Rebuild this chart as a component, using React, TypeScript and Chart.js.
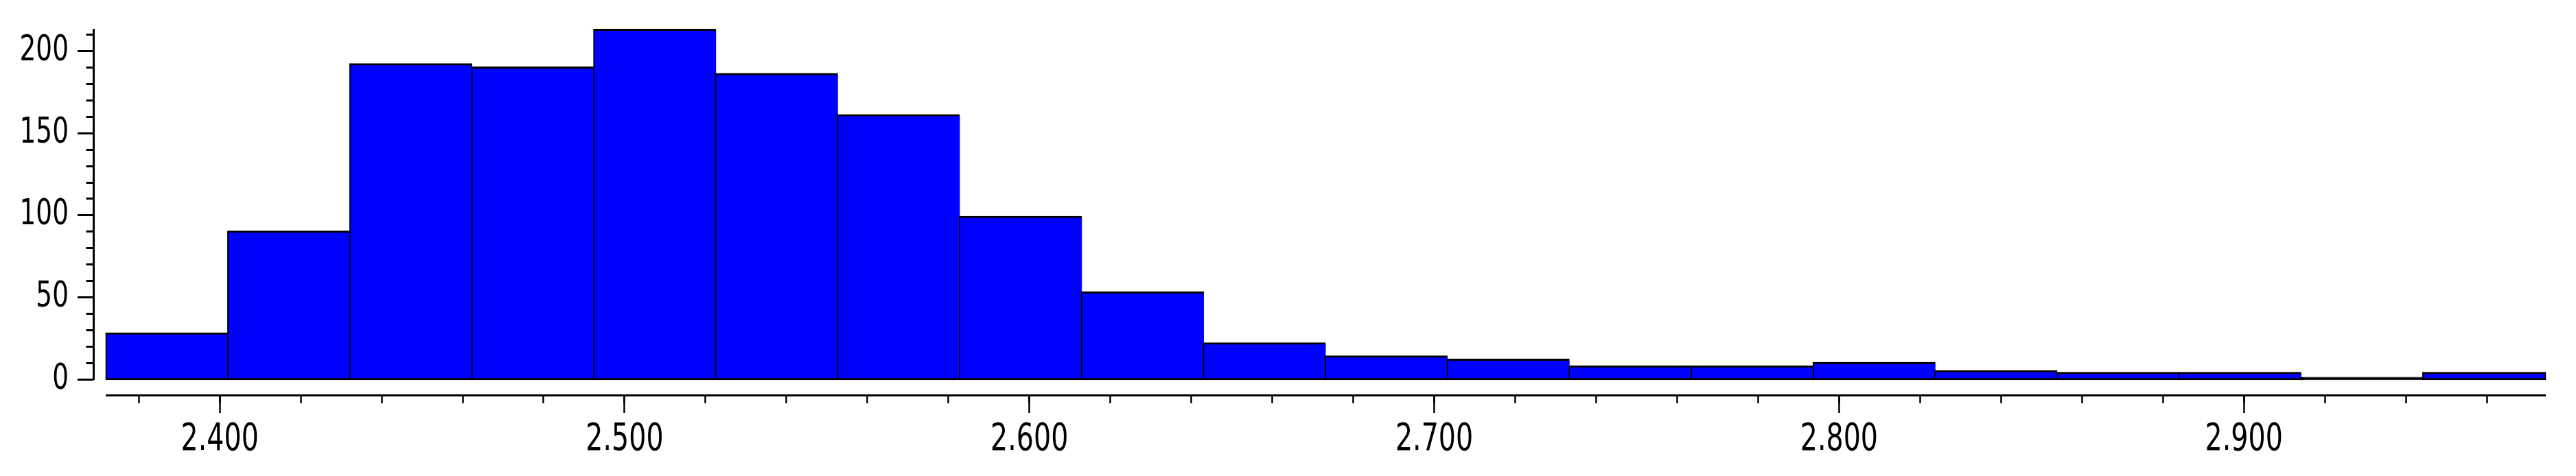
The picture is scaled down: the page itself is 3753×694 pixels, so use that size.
import React, { useEffect, useRef } from 'react';
import { Chart, registerables, LinearScale } from 'chart.js';

// ---- data ----
const BIN_EDGES = [
  2.372, 2.4021, 2.4322, 2.4624, 2.4925, 2.5226, 2.5527, 2.5828, 2.613, 2.6431,
  2.6732, 2.7033, 2.7334, 2.7636, 2.7937, 2.8238, 2.8539, 2.884, 2.9142, 2.9443, 2.9744,
];
const COUNTS = [28, 90, 192, 190, 213, 186, 161, 99, 53, 22, 14, 12, 8, 8, 10, 5, 4, 4, 1, 4];

const X_MAJOR_TICKS = [2.4, 2.5, 2.6, 2.7, 2.8, 2.9];
const X_TICK_LABELS = ['2.400', '2.500', '2.600', '2.700', '2.800', '2.900'];
const X_MINOR_TICKS = [
  2.38, 2.4, 2.42, 2.44, 2.46, 2.48, 2.5, 2.52, 2.54, 2.56, 2.58, 2.6, 2.62, 2.64, 2.66,
  2.68, 2.7, 2.72, 2.74, 2.76, 2.78, 2.8, 2.82, 2.84, 2.86, 2.88, 2.9, 2.92, 2.94, 2.96,
];
const Y_MAJOR_TICKS = [0, 50, 100, 150, 200];
const Y_TICK_LABELS = ['0', '50', '100', '150', '200'];
const Y_MINOR_TICKS = [0, 10, 20, 30, 40, 50, 60, 70, 80, 90, 100, 110, 120, 130, 140, 150, 160, 170, 180, 190, 200, 210];
const Y_AXIS_MAX = 213;

// ---- layout (pixels) ----
const W = 3753;
const H = 694;
const PLOT_LEFT = 155;
const PLOT_RIGHT = 3708;
const PLOT_TOP = 43.4;
const PLOT_BOTTOM = 553.3;
const Y_AXIS_PX = 136;
const Y_LABEL_RIGHT_PX = 100;
const X_AXIS_PX = 576.7;
const FONT_FAMILY = '"DejaVu Sans", "Liberation Sans", sans-serif';
const LABEL_SQUEEZE = 0.72; // horizontal squeeze of tick label glyphs
const BAR_FILL = '#0000ff';
const BAR_EDGE = '#000000';

// Linear scale whose tick labels are drawn horizontally condensed
class NarrowLinearScale extends LinearScale {
  static id = 'narrowLinear';
  drawLabels(chartArea: any) {
    const opts: any = this.options;
    if (!opts.ticks.display) return;
    const ctx = this.ctx;
    const items: any[] = (this as any).getLabelItems(chartArea);
    for (const item of items) {
      const o = item.options;
      ctx.save();
      ctx.translate(o.translation[0], o.translation[1]);
      if (o.rotation) ctx.rotate(o.rotation);
      ctx.scale(LABEL_SQUEEZE, 1);
      ctx.font = item.font.string;
      ctx.fillStyle = o.color;
      ctx.textAlign = o.textAlign;
      ctx.textBaseline = o.textBaseline;
      ctx.fillText(String(item.label), 0, item.textOffset);
      ctx.restore();
    }
  }
}

Chart.register(...registerables, NarrowLinearScale);

export default function App() {
  const canvasRef = useRef<HTMLCanvasElement | null>(null);

  useEffect(() => {
    const canvas = canvasRef.current;
    if (!canvas) return;

    const X_MIN = BIN_EDGES[0];
    const X_MAX = BIN_EDGES[BIN_EDGES.length - 1];
    const xPerPx = (X_MAX - X_MIN) / (PLOT_RIGHT - PLOT_LEFT);
    const yPerPx = Y_AXIS_MAX / (PLOT_BOTTOM - PLOT_TOP);
    const yAxisAtX = X_MIN - (PLOT_LEFT - Y_AXIS_PX) * xPerPx;
    const yLabelsAtX = X_MIN - (PLOT_LEFT - Y_LABEL_RIGHT_PX) * xPerPx;
    const xAxisAtY = -(X_AXIS_PX - PLOT_BOTTOM) * yPerPx;

    const points = COUNTS.map((c, i) => ({ x: (BIN_EDGES[i] + BIN_EDGES[i + 1]) / 2, y: c }));

    const setTicks = (arr: number[]) => (scale: any) => {
      scale.ticks = arr.map((v) => ({ value: v }));
    };

    // a bar thinner than its own outline shows as solid outline colour
    const fillFor = (c: any) => {
      const ys = c.chart.scales.y;
      const v = c.raw && typeof c.raw.y === 'number' ? c.raw.y : 0;
      if (!ys) return BAR_FILL;
      const h = Math.abs(ys.getPixelForValue(0) - ys.getPixelForValue(v));
      return h < 4 ? BAR_EDGE : BAR_FILL;
    };

    const common = { offset: false, bounds: 'data' };

    const chart = new Chart(canvas, {
      type: 'bar',
      data: {
        datasets: [
          {
            data: points as any,
            backgroundColor: fillFor,
            borderColor: BAR_EDGE,
            borderWidth: (c: any) => ({
              top: 3,
              bottom: 3,
              left: 2,
              right: c.dataIndex === COUNTS.length - 1 ? 2 : 0,
            }),
            borderSkipped: false,
            inflateAmount: 1.5,
            barThickness: 'flex',
            barPercentage: 1,
            categoryPercentage: 1,
            clip: false,
            xAxisID: 'x',
            yAxisID: 'y',
          } as any,
        ],
      },
      options: {
        responsive: false,
        maintainAspectRatio: false,
        animation: false,
        events: [],
        layout: {
          padding: { left: PLOT_LEFT, top: PLOT_TOP, right: W - PLOT_RIGHT, bottom: H - PLOT_BOTTOM },
        },
        plugins: {
          legend: { display: false },
          tooltip: { enabled: false },
          title: { display: false },
        },
        scales: {
          x: {
            ...common,
            type: 'linear',
            axis: 'x',
            min: X_MIN,
            max: X_MAX,
            position: { y: xAxisAtY } as any,
            afterBuildTicks: setTicks(X_MINOR_TICKS),
            grid: { offset: false, drawOnChartArea: false, drawTicks: true, tickLength: 10, tickWidth: 2.5, tickColor: '#000' },
            border: { display: true, width: 3, color: '#000' },
            ticks: { display: false },
          },
          xMajor: {
            ...common,
            type: 'narrowLinear',
            axis: 'x',
            min: X_MIN,
            max: X_MAX,
            position: { y: xAxisAtY } as any,
            afterBuildTicks: setTicks(X_MAJOR_TICKS),
            grid: { offset: false, drawOnChartArea: false, drawTicks: true, tickLength: 25, tickWidth: 2.5, tickColor: '#000' },
            border: { display: false },
            ticks: {
              display: true,
              autoSkip: false,
              maxRotation: 0,
              minRotation: 0,
              padding: 7,
              color: '#000',
              font: { family: FONT_FAMILY, size: 55 },
              callback: (_v: any, i: number) => X_TICK_LABELS[i],
            },
          },
          y: {
            ...common,
            type: 'linear',
            axis: 'y',
            min: 0,
            max: Y_AXIS_MAX,
            position: { x: yAxisAtX } as any,
            afterBuildTicks: setTicks(Y_MINOR_TICKS),
            grid: { offset: false, drawOnChartArea: false, drawTicks: true, tickLength: 9.5, tickWidth: 3, tickColor: '#000' },
            border: { display: true, width: 3, color: '#000' },
            ticks: { display: false },
          },
          yMajor: {
            ...common,
            type: 'linear',
            axis: 'y',
            min: 0,
            max: Y_AXIS_MAX,
            position: { x: yAxisAtX } as any,
            afterBuildTicks: setTicks(Y_MAJOR_TICKS),
            grid: { offset: false, drawOnChartArea: false, drawTicks: true, tickLength: 23, tickWidth: 3, tickColor: '#000' },
            border: { display: false },
            ticks: { display: false },
          },
          yLabels: {
            ...common,
            type: 'narrowLinear',
            axis: 'y',
            min: 0,
            max: Y_AXIS_MAX,
            position: { x: yLabelsAtX } as any,
            afterBuildTicks: setTicks(Y_MAJOR_TICKS),
            grid: { display: false, drawOnChartArea: false },
            border: { display: false },
            ticks: {
              display: true,
              autoSkip: false,
              padding: 0,
              color: '#000',
              font: { family: FONT_FAMILY, size: 52 },
              callback: (_v: any, i: number) => Y_TICK_LABELS[i],
            },
          },
        } as any,
      },
    });

    return () => chart.destroy();
  }, []);

  return (
    <div style={{ position: 'absolute', left: 0, top: 0, width: W, height: H, background: '#fff' }}>
      <canvas ref={canvasRef} width={W} height={H} style={{ display: 'block', width: W, height: H }} />
    </div>
  );
}
